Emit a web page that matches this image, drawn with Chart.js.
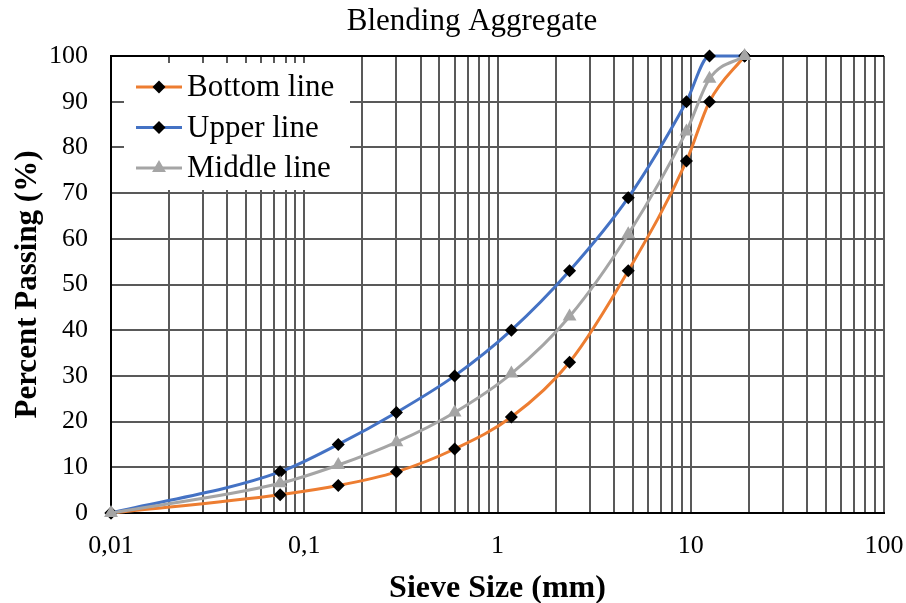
<!DOCTYPE html>
<html>
<head>
<meta charset="utf-8">
<script src="https://cdn.jsdelivr.net/npm/chart.js@4.4.1/dist/chart.umd.min.js"></script>
<style>
  html, body { margin: 0; padding: 0; background: #fff; }
  #chart { display: block; }
</style>
</head>
<body>
<canvas id="chart" width="906" height="603"></canvas>
<script>
// --- data ---
const sieveSizes = [0.01, 0.075, 0.15, 0.3, 0.6, 1.18, 2.36, 4.75, 9.5, 12.5, 19];
const bottomLine = [0, 4, 6, 9, 14, 21, 33, 53, 77, 90, 100];
const upperLine = [0, 9, 15, 22, 30, 40, 53, 69, 90, 100, 100];
const middleLine = [0, 6.5, 10.5, 15.5, 22, 30.5, 43, 61, 83.5, 95, 100];
const seriesNames = ['Bottom line', 'Upper line', 'Middle line'];
const xMajorTicks = [0.01, 0.1, 1, 10, 100];
const xMajorLabels = ['0,01', '0,1', '1', '10', '100'];

const serif = "'Liberation Serif', 'Times New Roman', serif";
const gridColor = '#595959';

// every log minor step gets a grid line, like the Excel chart
const xGridValues = [];
for (let i = 0; i < xMajorTicks.length - 1; i++) {
    for (let k = 1; k < 10; k++) xGridValues.push(k * xMajorTicks[i]);
}
xGridValues.push(xMajorTicks[xMajorTicks.length - 1]);

function toPoints(ys) {
    return sieveSizes.map((x, i) => ({ x: x, y: ys[i] }));
}

// title in the reference is a bit right of the canvas centre
const shiftTitle = {
    id: 'shiftTitle',
    beforeDraw(chart) {
        if (chart.titleBlock) chart.titleBlock.left = 60;
    }
};

// legend box sits inside the plot, top left, on white
const insideLegend = {
    id: 'insideLegend',
    afterDraw(chart) {
        const ctx = chart.ctx;
        const area = chart.chartArea;
        const x0 = area.left + 13, y0 = area.top + 7;
        ctx.save();
        ctx.fillStyle = '#fff';
        ctx.fillRect(x0, y0, 226, 127);
        ctx.font = '31px ' + serif;
        ctx.textBaseline = 'middle';
        chart.data.datasets.forEach((ds, i) => {
            const y = y0 + 24 + i * 40.5;
            ctx.strokeStyle = ds.borderColor;
            ctx.lineWidth = 3;
            ctx.beginPath();
            ctx.moveTo(x0 + 12, y);
            ctx.lineTo(x0 + 58, y);
            ctx.stroke();
            ctx.fillStyle = ds.pointBackgroundColor;
            Chart.helpers.drawPoint(ctx, {
                pointStyle: ds.pointStyle,
                radius: ds.pointRadius,
                rotation: 0,
                borderWidth: 0
            }, x0 + 35, y);
            ctx.fillStyle = '#000';
            ctx.fillText(seriesNames[i], x0 + 63, y + 1);
        });
        ctx.restore();
    }
};

new Chart(document.getElementById('chart'), {
    type: 'line',
    data: {
        datasets: [
            {
                label: seriesNames[0],
                data: toPoints(bottomLine),
                borderColor: '#ED7D31',
                borderWidth: 3,
                pointStyle: 'rectRot',
                pointRadius: 6.5,
                pointBackgroundColor: '#000',
                pointBorderWidth: 0,
                cubicInterpolationMode: 'monotone',
                clip: false,
                order: 2
            },
            {
                label: seriesNames[1],
                data: toPoints(upperLine),
                borderColor: '#4472C4',
                borderWidth: 3,
                pointStyle: 'rectRot',
                pointRadius: 6.5,
                pointBackgroundColor: '#000',
                pointBorderWidth: 0,
                cubicInterpolationMode: 'monotone',
                clip: false,
                order: 1
            },
            {
                label: seriesNames[2],
                data: toPoints(middleLine),
                borderColor: '#A5A5A5',
                borderWidth: 3,
                pointStyle: 'triangle',
                pointRadius: 8,
                pointBackgroundColor: '#A5A5A5',
                pointBorderWidth: 0,
                cubicInterpolationMode: 'monotone',
                clip: false,
                order: 0
            }
        ]
    },
    options: {
        responsive: false,
        animation: false,
        events: [],
        layout: { padding: { top: 0, right: 22, bottom: 0, left: 0 } },
        plugins: {
            legend: { display: false },
            tooltip: { enabled: false },
            title: {
                display: true,
                text: 'Blending Aggregate',
                color: '#000',
                font: { family: serif, size: 31, weight: 'normal', lineHeight: 1.2 },
                padding: { top: 3.4, bottom: 15.4 }
            }
        },
        scales: {
            x: {
                type: 'logarithmic',
                min: 0.01,
                max: 100,
                afterBuildTicks(scale) {
                    scale.ticks = xGridValues.map(v => ({ value: v }));
                },
                afterFit(scale) {
                    scale.height = 90;
                    scale.paddingLeft = 0;
                    scale.paddingRight = 0;
                },
                grid: { color: gridColor, lineWidth: 2, drawTicks: false },
                border: { color: '#000', width: 2 },
                ticks: {
                    autoSkip: false,
                    maxRotation: 0,
                    padding: 18,
                    color: '#000',
                    font: { family: serif, size: 26 },
                    callback(value) {
                        const k = xMajorTicks.indexOf(value);
                        return k >= 0 ? xMajorLabels[k] : '';
                    }
                },
                title: {
                    display: true,
                    text: 'Sieve Size (mm)',
                    color: '#000',
                    font: { family: serif, size: 32, weight: 'bold', lineHeight: 0.8 },
                    padding: { top: 0, bottom: 1 }
                }
            },
            y: {
                min: 0,
                max: 100,
                afterFit(scale) { scale.width = 111; },
                grid: {
                    color: ctx => (ctx.tick && ctx.tick.value === 100 ? '#000' : gridColor),
                    lineWidth: 2,
                    drawTicks: false
                },
                border: { color: '#000', width: 2 },
                ticks: {
                    stepSize: 10,
                    padding: 23,
                    color: '#000',
                    font: { family: serif, size: 26 }
                },
                title: {
                    display: true,
                    text: 'Percent Passing (%)',
                    color: '#000',
                    font: { family: serif, size: 31, weight: 'bold', lineHeight: 1.2 },
                    padding: { top: 9, bottom: 0 }
                }
            }
        }
    },
    plugins: [shiftTitle, insideLegend]
});
</script>
</body>
</html>
